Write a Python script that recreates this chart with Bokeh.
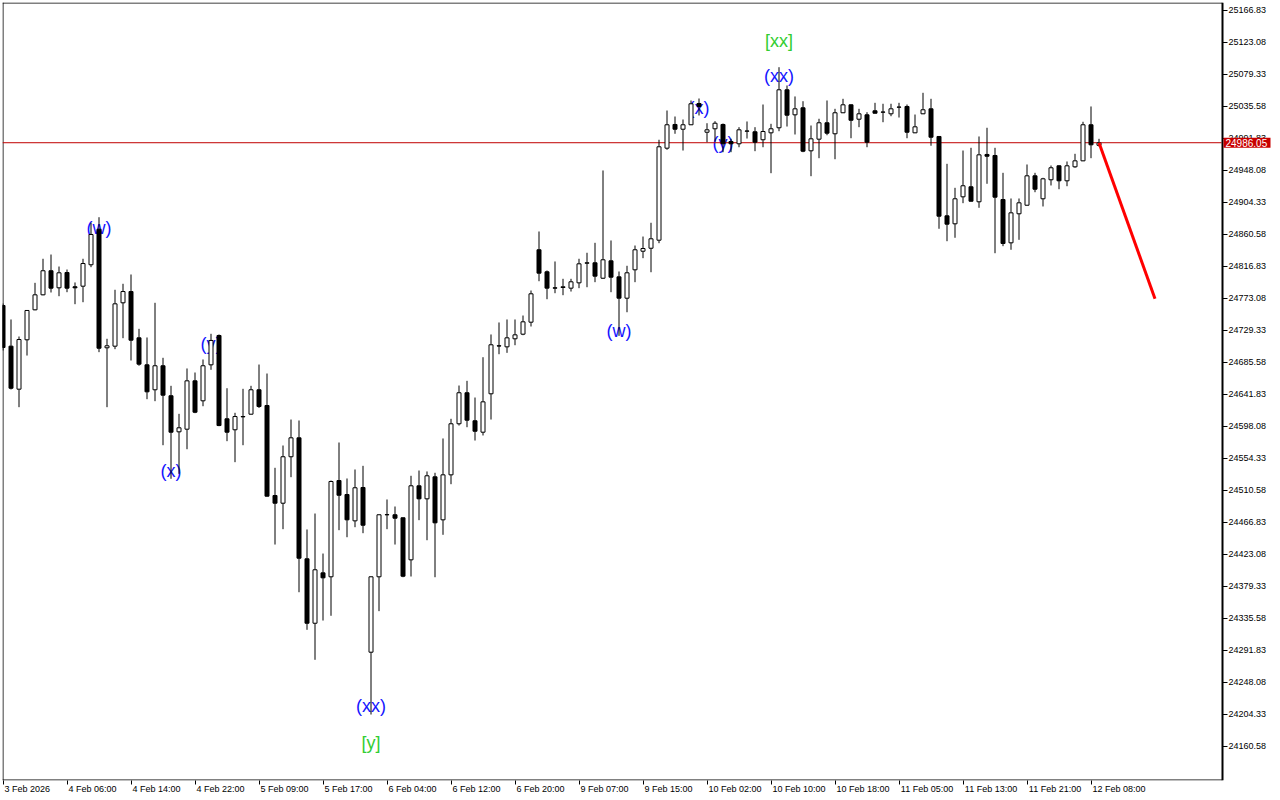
import numpy as np
from bokeh.plotting import figure
from bokeh.models import ColumnDataSource, FixedTicker, PrintfTickFormatter, Range1d
from bokeh.core.properties import value
from bokeh.embed import file_html
from bokeh.resources import INLINE

# ---------------- data ----------------
open_ = [24763.5, 24707.9, 24649.1, 24716.6, 24757.6, 24778.1, 24811.0, 24787.7, 24808.6, 24789.1,
         24789.9, 24819.2, 24867.8, 24705.7, 24707.9, 24767.2, 24782.6, 24719.3, 24682.4, 24648.3,
         24681.1, 24640.1, 24590.8, 24594.4, 24660.5, 24633.2, 24682.4, 24722.5, 24608.6, 24593.6,
         24611.3, 24614.9, 24648.3, 24626.8, 24503.7, 24493.2, 24556.7, 24582.6, 24417.2, 24329.1,
         24398.0, 24392.6, 24524.2, 24505.1, 24469.1, 24514.7, 24289.5, 24392.6, 24477.4, 24477.4,
         24473.3, 24415.8, 24517.0, 24499.2, 24529.3, 24470.5, 24532.0, 24601.8, 24644.2, 24605.9,
         24590.3, 24642.8, 24708.4, 24707.0, 24718.0, 24724.3, 24740.7, 24839.7, 24809.6, 24787.7,
         24788.1, 24787.2, 24794.5, 24821.3, 24821.9, 24800.8, 24824.6, 24802.7, 24773.5, 24812.3,
         24837.7, 24841.8, 24852.8, 24978.6, 25011.0, 25004.5, 25010.6, 25039.7, 25000.4, 25005.1,
         25011.0, 24987.7, 24984.6, 25001.8, 25001.0, 24990.1, 24999.6, 25006.5, 25058.4, 25024.2,
         25033.8, 24975.0, 24990.9, 25013.3, 24998.3, 25027.0, 25037.9, 25018.2, 25024.2, 25029.7,
         25027.8, 25025.6, 25034.6, 25035.6, 24999.6, 25025.6, 25032.4, 24994.6, 24886.1, 24875.2,
         24912.1, 24925.8, 24905.3, 24970.0, 24968.6, 24908.4, 24849.2, 24888.9, 24900.6, 24940.8,
         24909.4, 24935.4, 24954.5, 24934.0, 24953.1, 24961.3, 25010.6, 24982.5]
high = [24766.2, 24744.4, 24721.1, 24756.7, 24794.5, 24827.4, 24833.2, 24816.8, 24812.7, 24795.0,
        24827.4, 24876.6, 24884.2, 24718.0, 24785.0, 24793.2, 24805.9, 24731.6, 24719.8, 24767.2,
        24692.0, 24653.7, 24615.4, 24677.4, 24671.9, 24689.7, 24724.8, 24723.9, 24650.4, 24616.8,
        24649.6, 24653.7, 24682.8, 24670.5, 24541.6, 24572.1, 24607.6, 24606.3, 24457.3, 24479.1,
        24424.4, 24524.2, 24576.2, 24527.0, 24539.3, 24544.3, 24393.0, 24477.8, 24498.3, 24488.7,
        24473.5, 24530.7, 24537.9, 24536.6, 24534.8, 24581.7, 24608.6, 24654.1, 24660.5, 24637.7,
        24692.8, 24723.9, 24740.3, 24744.4, 24744.4, 24749.8, 24784.0, 24864.7, 24811.4, 24823.7,
        24800.0, 24800.0, 24827.4, 24835.6, 24849.2, 24948.1, 24852.4, 24810.0, 24817.8, 24845.5,
        24857.8, 24876.6, 24990.1, 25030.1, 25021.9, 25017.8, 25043.8, 25046.5, 25012.7, 25015.5,
        25012.3, 24991.4, 25007.3, 25015.1, 25007.3, 25038.3, 25011.9, 25089.3, 25064.3, 25049.3,
        25042.8, 25009.6, 25018.8, 25043.8, 25032.4, 25046.1, 25038.3, 25032.4, 25027.8, 25040.6,
        25039.3, 25039.3, 25040.6, 25038.3, 25024.6, 25054.3, 25046.1, 24995.0, 24957.2, 24924.4,
        24975.4, 24979.1, 24994.6, 25006.5, 24979.1, 24944.9, 24909.8, 24909.8, 24956.3, 24944.9,
        24938.1, 24954.9, 24955.0, 24960.4, 24970.9, 25014.7, 25035.6, 24991.4]
low = [24702.0, 24648.7, 24624.5, 24695.1, 24757.0, 24777.5, 24781.3, 24776.2, 24781.7, 24765.3,
       24768.0, 24815.9, 24699.7, 24624.5, 24703.8, 24718.8, 24688.3, 24681.1, 24635.4, 24632.7,
       24572.5, 24526.6, 24533.4, 24567.0, 24616.3, 24625.8, 24675.6, 24598.5, 24578.0, 24549.3,
       24572.5, 24614.5, 24623.4, 24502.4, 24436.7, 24457.7, 24528.8, 24371.5, 24320.1, 24279.1,
       24332.8, 24339.3, 24456.3, 24446.7, 24460.4, 24452.2, 24204.3, 24345.6, 24457.7, 24436.7,
       24392.0, 24393.0, 24470.0, 24442.6, 24392.0, 24450.0, 24519.2, 24599.4, 24597.1, 24578.9,
       24585.8, 24607.6, 24696.9, 24698.8, 24709.2, 24722.9, 24734.8, 24796.7, 24772.1, 24780.3,
       24777.6, 24782.6, 24787.2, 24788.5, 24795.4, 24800.0, 24781.7, 24722.0, 24754.3, 24795.4,
       24828.2, 24809.0, 24848.7, 24976.4, 24998.3, 24975.4, 25010.2, 25023.3, 24986.8, 24987.7,
       24973.1, 24973.1, 24979.9, 24991.8, 24974.5, 24979.9, 24944.4, 25001.8, 25008.2, 24997.3,
       24973.1, 24940.3, 24964.9, 24996.3, 24963.5, 25026.6, 24992.2, 25007.3, 24979.9, 25026.0,
       25014.1, 25022.3, 25020.5, 24992.2, 24999.2, 25025.2, 24981.9, 24868.4, 24851.4, 24856.1,
       24903.4, 24905.8, 24897.1, 24929.9, 24835.0, 24844.6, 24839.7, 24853.3, 24900.2, 24918.4,
       24898.9, 24927.6, 24922.5, 24926.6, 24951.8, 24960.9, 24964.9, 24980.9]
close = [24706.1, 24650.4, 24717.0, 24756.7, 24778.1, 24811.0, 24787.2, 24808.2, 24787.2, 24787.7,
         24820.9, 24860.6, 24705.1, 24708.4, 24765.8, 24782.6, 24716.1, 24683.3, 24645.5, 24681.1,
         24640.9, 24590.3, 24596.3, 24660.5, 24617.6, 24681.1, 24715.7, 24599.4, 24590.3, 24611.7,
         24611.7, 24648.3, 24625.4, 24502.8, 24493.2, 24556.7, 24582.6, 24418.0, 24329.1, 24402.2,
         24391.2, 24522.9, 24504.1, 24470.5, 24514.3, 24463.1, 24392.6, 24477.4, 24477.6, 24472.7,
         24393.4, 24517.0, 24499.2, 24530.7, 24466.4, 24532.0, 24601.8, 24644.2, 24606.7, 24591.6,
         24631.8, 24709.8, 24708.1, 24719.3, 24723.4, 24741.2, 24779.5, 24807.7, 24787.2, 24787.2,
         24789.1, 24795.9, 24820.5, 24821.9, 24803.6, 24826.0, 24802.2, 24773.5, 24808.2, 24839.7,
         24841.4, 24854.7, 24980.5, 25010.6, 25004.5, 25010.6, 25039.3, 25035.6, 25003.7, 25012.7,
         24984.6, 24984.6, 25003.7, 25002.1, 24986.8, 25001.4, 25005.1, 25058.4, 25023.7, 25032.4,
         24974.5, 24991.4, 25013.3, 24999.1, 25027.0, 25037.9, 25016.8, 25025.6, 24986.8, 25026.4,
         25028.0, 25032.4, 25034.8, 25000.4, 25007.8, 25031.1, 24993.6, 24885.6, 24874.7, 24909.4,
         24927.2, 24906.1, 24969.5, 24967.6, 24911.6, 24848.3, 24890.2, 24903.9, 24940.8, 24922.5,
         24936.7, 24951.8, 24934.0, 24954.5, 24961.3, 25010.6, 24983.2, 24986.05]

current_price = 24986.05
current_price_text = "24986.05"
forecast_bars = [137, 144]
forecast_prices = [24986.05, 24772.7]

x_tick_bars = [0, 8, 16, 24, 32, 40, 48, 56, 64, 72, 80, 88, 96, 104, 112, 120, 128, 136]
x_tick_labels = ["3 Feb 2026", "4 Feb 06:00", "4 Feb 14:00", "4 Feb 22:00", "5 Feb 09:00",
                 "5 Feb 17:00", "6 Feb 04:00", "6 Feb 12:00", "6 Feb 20:00", "9 Feb 07:00",
                 "9 Feb 15:00", "10 Feb 02:00", "10 Feb 10:00", "10 Feb 18:00", "11 Feb 05:00",
                 "11 Feb 13:00", "11 Feb 21:00", "12 Feb 08:00"]
y_ticks = [25166.83, 25123.08, 25079.33, 25035.58, 24991.83, 24948.08, 24904.33, 24860.58,
           24816.83, 24773.08, 24729.33, 24685.58, 24641.83, 24598.08, 24554.33, 24510.58,
           24466.83, 24423.08, 24379.33, 24335.58, 24291.83, 24248.08, 24204.33, 24160.58]

wave_bars = [12, 21, 26, 46, 77, 87, 90, 97]
wave_prices = [24870.1, 24537.9, 24711.5, 24215.3, 24729.3, 25034.2, 24985.0, 25076.6]
wave_texts = ["(w)", "(x)", "(y)", "(xx)", "(w)", "(x)", "(y)", "(xx)"]
major_bars = [46, 97]
major_prices = [24166.0, 25125.8]
major_texts = ["[y]", "[xx]"]

# ---------------- layout (pixel geometry of the chart window) ----------------
REF_X0 = 2.5             # pixel column centre of bar 0
PX_PER_BAR = 8.0
PRICE_AT_Y0 = 25180.5    # price at pixel row 0
PX_PER_PRICE = 32.0 / 43.75
FRAME_LEFT, FRAME_TOP, FRAME_RIGHT, FRAME_BOTTOM = 2, 2, 1280, 780
CHART_RIGHT = 1222       # centre of the price-scale line

def px_x(px):
    return (px - REF_X0) / PX_PER_BAR

def px_y(py):
    return PRICE_AT_Y0 - py / PX_PER_PRICE

FW = FRAME_RIGHT - FRAME_LEFT
FH = FRAME_BOTTOM - FRAME_TOP
xr = Range1d(px_x(FRAME_LEFT), px_x(FRAME_RIGHT))
yr = Range1d(px_y(FRAME_BOTTOM), px_y(FRAME_TOP))

FONT = "Liberation Sans"

p = figure(frame_width=FW, frame_height=FH, x_range=xr, y_range=yr,
           output_backend="svg", toolbar_location=None, y_axis_location="right",
           min_border_left=FRAME_LEFT, min_border_top=FRAME_TOP, min_border_right=0,
           min_border_bottom=0, background_fill_color="white", border_fill_color="white")
p.xgrid.visible = False
p.ygrid.visible = False
p.outline_line_color = None

# chart window border (top, left, bottom)
p.segment(x0=[px_x(FRAME_LEFT), px_x(2.5), px_x(FRAME_LEFT)],
          y0=[px_y(2.5), px_y(FRAME_TOP), px_y(779.5)],
          x1=[px_x(CHART_RIGHT), px_x(2.5), px_x(CHART_RIGHT)],
          y1=[px_y(2.5), px_y(FRAME_BOTTOM), px_y(779.5)],
          line_color="black", line_width=1)

# wave labels (drawn first, candles on top)
p.text(x=wave_bars, y=wave_prices, text=wave_texts, text_color="#1515FF",
       text_font=value(FONT), text_font_size="18px", text_align="center", text_baseline="middle")
p.text(x=major_bars, y=major_prices, text=major_texts, text_color="#32CD32",
       text_font=value(FONT), text_font_size="18px", text_align="center", text_baseline="middle")

# current price line
p.segment(x0=[px_x(FRAME_LEFT)], y0=[current_price], x1=[px_x(CHART_RIGHT - 1)], y1=[current_price],
          line_color="#C00000", line_width=1)

# candles
o = np.array(open_); c = np.array(close); h = np.array(high); l = np.array(low)
bars = np.arange(len(o))
src = ColumnDataSource(dict(
    bar=bars, high=h, low=l,
    top=np.maximum(o, c), bottom=np.minimum(o, c),
    fill=np.where(c > o, "white", "black").tolist(),
))
p.segment(x0="bar", y0="low", x1="bar", y1="high", source=src, line_color="black", line_width=1)
p.vbar(x="bar", top="top", bottom="bottom", width=4.0 / PX_PER_BAR, source=src,
       fill_color="fill", line_color="black", line_width=1)

# forecast line
p.line(x=forecast_bars, y=forecast_prices, line_color="#FF0000", line_width=3)

# time axis
xa = p.xaxis[0]
label_w = {c_: 5.56 for c_ in "0123456789"}
label_w.update({" ": 2.78, ":": 2.78, "F": 6.11, "e": 5.56, "b": 5.56})
def text_width(s):
    return sum(label_w.get(ch, 5.56) for ch in s) * 9 / 10.0
centers = [b + (text_width(t) / 2 + 1.5) / PX_PER_BAR for b, t in zip(x_tick_bars, x_tick_labels)]
xa.ticker = FixedTicker(ticks=centers, minor_ticks=x_tick_bars)
xa.major_label_overrides = {cc: t for cc, t in zip(centers, x_tick_labels)}
xa.major_tick_out = 0
xa.major_tick_in = 0
xa.minor_tick_out = 4
xa.minor_tick_in = 0
xa.minor_tick_line_color = "black"
xa.major_label_standoff = -1
xa.major_label_text_font = FONT
xa.major_label_text_font_size = "9px"
xa.major_label_text_color = "black"
xa.axis_line_color = None

# price axis, pinned at the right edge of the chart window
ya = p.yaxis[0]
ya.fixed_location = px_x(CHART_RIGHT)
ya.ticker = FixedTicker(ticks=y_ticks, minor_ticks=[])
ya.formatter = PrintfTickFormatter(format="%.2f")
ya.major_tick_out = 5
ya.major_tick_in = 0
ya.minor_tick_out = 0
ya.major_label_standoff = 1
ya.major_label_text_font = FONT
ya.major_label_text_font_size = "9px"
ya.major_label_text_color = "black"
ya.axis_line_color = "black"
ya.axis_line_width = 2

# current-price tag on the price scale
half_h = 5.0 / PX_PER_PRICE
p.quad(left=[px_x(CHART_RIGHT + 1)], right=[px_x(1270)], top=[current_price + half_h],
       bottom=[current_price - half_h], fill_color="#C80000", line_color=None, level="overlay")
p.text(x=[px_x(1225)], y=[current_price], text=[current_price_text], text_color="white",
       text_font=value(FONT), text_font_size="10px", text_align="left", text_baseline="middle",
       level="overlay")

open("out.html", "w").write(file_html(p, INLINE))
